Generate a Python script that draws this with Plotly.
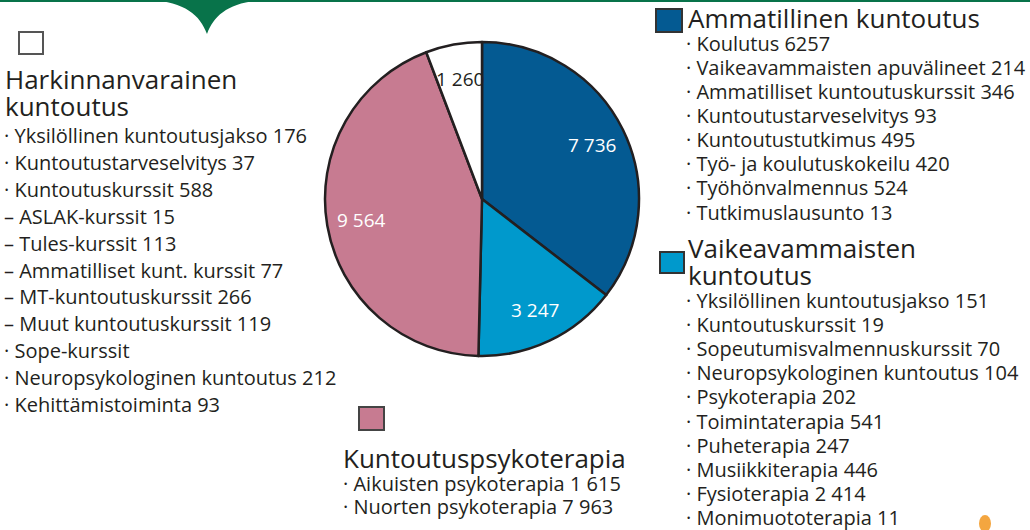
import math
import plotly.graph_objects as go

W, H = 1030, 530

# ---- data ----
categories = ["Ammatillinen kuntoutus", "Vaikeavammaisten kuntoutus",
              "Kuntoutuspsykoterapia", "Harkinnanvarainen kuntoutus"]
values = [7736, 3247, 9564, 1260]
colors = ["#045a92", "#0099cc", "#c77b91", "#ffffff"]
text_colors = ["#ffffff", "#ffffff", "#ffffff", "#231f20"]

amm_items = ["· Koulutus 6257", "· Vaikeavammaisten apuvälineet 214",
             "· Ammatilliset kuntoutuskurssit 346", "· Kuntoutustarveselvitys 93",
             "· Kuntoutustutkimus 495", "· Työ- ja koulutuskokeilu 420",
             "· Työhönvalmennus 524", "· Tutkimuslausunto 13"]
vaik_items = ["· Yksilöllinen kuntoutusjakso 151", "· Kuntoutuskurssit 19",
              "· Sopeutumisvalmennuskurssit 70", "· Neuropsykologinen kuntoutus 104",
              "· Psykoterapia 202", "· Toimintaterapia 541", "· Puheterapia 247",
              "· Musiikkiterapia 446", "· Fysioterapia 2 414", "· Monimuototerapia 11"]
psy_items = ["· Aikuisten psykoterapia 1 615", "· Nuorten psykoterapia 7 963"]
hark_items = ["· Yksilöllinen kuntoutusjakso 176", "· Kuntoutustarveselvitys 37",
              "· Kuntoutuskurssit 588", "– ASLAK-kurssit 15", "– Tules-kurssit 113",
              "– Ammatilliset kunt. kurssit 77", "– MT-kuntoutuskurssit 266",
              "– Muut kuntoutuskurssit 119", "· Sope-kurssit",
              "· Neuropsykologinen kuntoutus 212", "· Kehittämistoiminta 93"]

FONT = "Open Sans, DejaVu Sans, sans-serif"
TXT = "#231f20"
HEAD = 26
ITEM = 20


def px(x):
    return x / W


def py(y):
    return 1 - y / H


fig = go.Figure()

cx, cy, R = 482, 199, 157
fig.add_trace(go.Pie(
    labels=categories, values=values, sort=False, direction="clockwise",
    rotation=0,
    marker=dict(colors=colors, line=dict(color=TXT, width=2.5)),
    textinfo="none",
    showlegend=False, hoverinfo="label+value",
    domain=dict(x=[px(cx - R), px(cx + R)], y=[py(cy + R), py(cy - R)]),
))

annotations = []
shapes = []

# slice value labels, placed along each slice's mid-angle (computed from values)
total = sum(values)
cum = 0
for v, tc in zip(values, text_colors):
    mid = (cum + v / 2) / total * 2 * math.pi
    cum += v
    r = 0.78 * R
    lx = cx + r * math.sin(mid)
    ly = cy - r * math.cos(mid)
    annotations.append(dict(x=px(lx), y=py(ly), xref="paper", yref="paper",
                            text=f"{v:,}".replace(",", " "), showarrow=False,
                            xanchor="center", yanchor="middle",
                            font=dict(family=FONT, size=19, color=tc)))


def add_text(x, y, t, size):
    annotations.append(dict(x=px(x), y=py(y), xref="paper", yref="paper",
                            text=t, showarrow=False, xanchor="left",
                            yanchor="middle", borderpad=0,
                            font=dict(family=FONT, size=size, color=TXT)))


def add_square(x0, y0, x1, y1, fill, line="#3a3a3a"):
    shapes.append(dict(type="rect", xref="paper", yref="paper",
                       x0=px(x0), x1=px(x1), y0=py(y1), y1=py(y0),
                       fillcolor=fill, line=dict(color=line, width=2)))


# Harkinnanvarainen (left)
add_square(19, 32, 43, 54, colors[3], "#555555")
add_text(4, 79, "Harkinnanvarainen", HEAD)
add_text(4, 106, "kuntoutus", HEAD)
for i, t in enumerate(hark_items):
    add_text(3, 136 + i * 26.8, t, ITEM)

# Ammatillinen (top right)
add_square(656, 9, 682, 32, colors[0], "#333333")
add_text(687, 18, "Ammatillinen kuntoutus", HEAD)
for i, t in enumerate(amm_items):
    add_text(685, 44 + i * 24, t, ITEM)

# Vaikeavammaisten (bottom right)
add_square(660, 252, 684, 273, colors[1], "#333333")
add_text(687, 248, "Vaikeavammaisten", HEAD)
add_text(687, 275, "kuntoutus", HEAD)
for i, t in enumerate(vaik_items):
    add_text(685, 300 + i * 24.2, t, ITEM)

# Kuntoutuspsykoterapia (bottom centre)
add_square(359, 407, 384, 430, colors[2], "#444444")
add_text(342, 458, "Kuntoutuspsykoterapia", HEAD)
for i, t in enumerate(psy_items):
    add_text(342, 483 + i * 23, t, ITEM)

# decorative green top line and notch
GREEN = "#08734a"
shapes.append(dict(type="rect", xref="paper", yref="paper", x0=0, x1=1,
                   y0=py(2), y1=1, fillcolor=GREEN, line=dict(width=0)))
notch = (f"M {px(150)} {py(0)} C {px(185)} {py(2)} {px(200)} {py(15)} {px(207)} {py(34)} "
         f"C {px(214)} {py(15)} {px(229)} {py(2)} {px(264)} {py(0)} Z")
shapes.append(dict(type="path", xref="paper", yref="paper", path=notch,
                   fillcolor=GREEN, line=dict(width=0)))
# small orange icon bottom right
shapes.append(dict(type="circle", xref="paper", yref="paper",
                   x0=px(979), x1=px(991), y0=py(532), y1=py(515),
                   fillcolor="#f4a640", line=dict(width=0)))

fig.update_layout(
    width=W, height=H, margin=dict(l=0, r=0, t=0, b=0),
    paper_bgcolor="white", plot_bgcolor="white",
    annotations=annotations, shapes=shapes,
    font=dict(family=FONT, color=TXT),
)

fig.write_html("out.html", config={"displayModeBar": False},
               post_script="document.body.style.margin='0';document.body.style.overflow='hidden';")
